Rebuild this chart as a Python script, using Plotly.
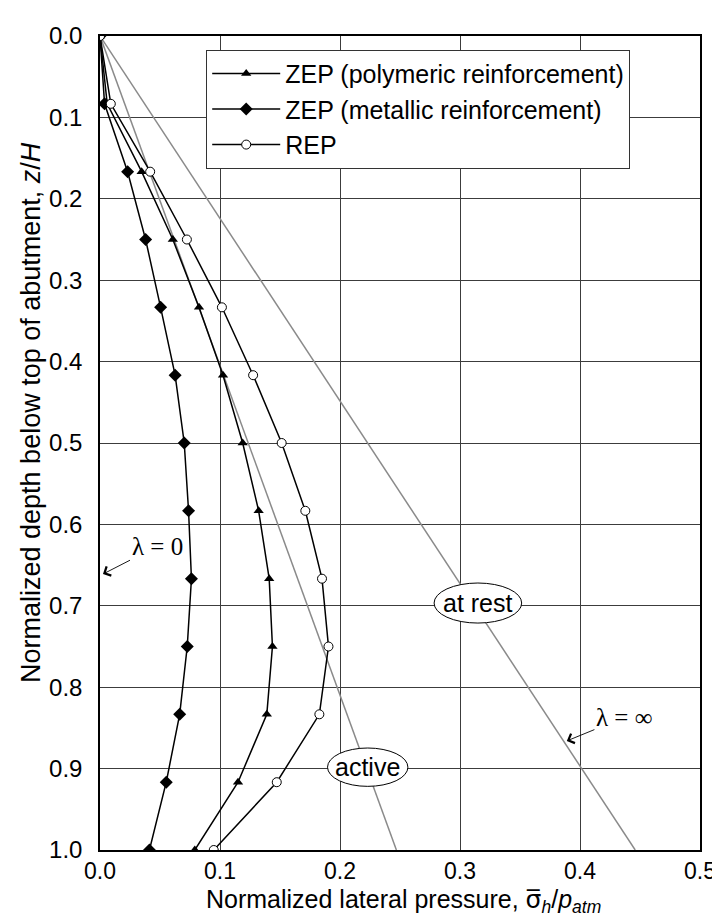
import plotly.graph_objects as go

# depth ratios z/H (0 .. 1 in steps of 1/12)
depth = [0.0, 0.0833, 0.1667, 0.25, 0.3333, 0.4167, 0.5, 0.5833, 0.6667, 0.75, 0.8333, 0.9167, 1.0]

zep_polymeric = [0.0, 0.006, 0.0347, 0.0607, 0.0825, 0.1025, 0.1189, 0.1322, 0.141, 0.1437, 0.139, 0.115, 0.079]
zep_metallic = [0.0, 0.0038, 0.023, 0.038, 0.0505, 0.0626, 0.0702, 0.0738, 0.0762, 0.0727, 0.0664, 0.0552, 0.0412]
rep = [0.0, 0.009, 0.0418, 0.0724, 0.1016, 0.1276, 0.1514, 0.1711, 0.185, 0.1904, 0.1828, 0.1473, 0.0948]

line_depth = [0.0, 1.0]
active_x = [0.0, 0.247]
at_rest_x = [0.0, 0.446]

x_ticks = [0.0, 0.1, 0.2, 0.3, 0.4, 0.5]
y_ticks = [0.0, 0.1, 0.2, 0.3, 0.4, 0.5, 0.6, 0.7, 0.8, 0.9, 1.0]

FONT = "Arial, Liberation Sans, sans-serif"
SERIF = "Times New Roman, Liberation Serif, serif"
GRAY = "#8a8a8a"

fig = go.Figure()

fig.add_trace(go.Scatter(x=active_x, y=line_depth, mode="lines",
                         line=dict(color=GRAY, width=1.5), showlegend=False, hoverinfo="skip"))
fig.add_trace(go.Scatter(x=at_rest_x, y=line_depth, mode="lines",
                         line=dict(color=GRAY, width=1.5), showlegend=False, hoverinfo="skip"))

fig.add_trace(go.Scatter(x=zep_polymeric, y=depth, mode="lines+markers",
                         name="ZEP (polymeric reinforcement)",
                         line=dict(color="black", width=1.5),
                         marker=dict(symbol="triangle-up", size=9, color="black")))
fig.add_trace(go.Scatter(x=zep_metallic, y=depth, mode="lines+markers",
                         name="ZEP (metallic reinforcement)",
                         line=dict(color="black", width=1.5),
                         marker=dict(symbol="diamond", size=10, color="black")))
fig.add_trace(go.Scatter(x=rep, y=depth, mode="lines+markers",
                         name="REP",
                         line=dict(color="black", width=1.5),
                         marker=dict(symbol="circle", size=9, color="white",
                                     line=dict(color="black", width=1))))

# ellipse labels
fig.add_shape(type="circle", xref="x", yref="y", x0=0.2784, x1=0.3514, y0=0.672, y1=0.7212,
              line=dict(color="black", width=1), fillcolor="white", layer="above")
fig.add_shape(type="circle", xref="x", yref="y", x0=0.1896, x1=0.2566, y0=0.8747, y1=0.9218,
              line=dict(color="black", width=1), fillcolor="white", layer="above")
fig.add_annotation(x=0.3149, y=0.6966, text="at rest", showarrow=False,
                   font=dict(family=FONT, size=25, color="black"))
fig.add_annotation(x=0.2231, y=0.8982, text="active", showarrow=False,
                   font=dict(family=FONT, size=25, color="black"))

# lambda labels with arrows
fig.add_annotation(x=0.0025, y=0.661, ax=0.0475, ay=0.627, axref="x", ayref="y",
                   text="λ = 0", showarrow=True, arrowhead=4, arrowsize=2.2, arrowwidth=0.9,
                   arrowcolor="black", font=dict(family=SERIF, size=25, color="black"))
fig.add_annotation(x=0.389, y=0.866, ax=0.437, ay=0.837, axref="x", ayref="y",
                   text="λ = ∞", showarrow=True, arrowhead=4, arrowsize=2.2, arrowwidth=0.9,
                   arrowcolor="black", font=dict(family=SERIF, size=25, color="black"))

# axis titles (annotations, positioned like the reference)
fig.add_annotation(xref="paper", yref="paper", x=-0.1148, y=0.537, xanchor="center", yanchor="middle",
                   text="Normalized depth below top of abutment, <i>z</i>/<i>H</i>", textangle=-90,
                   showarrow=False, font=dict(family=FONT, size=27, color="black"))
fig.add_annotation(xref="paper", yref="paper", x=0.505, y=-0.040, xanchor="center", yanchor="top",
                   text="Normalized lateral pressure, "
                        "<span style=\"font-family:'DejaVu Sans'\">σ̅</span>"
                        "<sub><i>h</i></sub>/<i>p</i><sub><i>atm</i></sub>",
                   showarrow=False, font=dict(family=FONT, size=25, color="black"))

fig.update_xaxes(range=[0, 0.5], tickvals=x_ticks, tickformat=".1f",
                 showgrid=True, gridcolor="#3c3c3c", gridwidth=1,
                 showline=True, linecolor="black", linewidth=1.5, mirror=True,
                 ticks="", zeroline=False, ticklabelstandoff=0,
                 tickfont=dict(family=FONT, size=23, color="black"))
fig.update_yaxes(range=[1.0, 0.0], tickvals=y_ticks, tickformat=".1f",
                 showgrid=True, gridcolor="#3c3c3c", gridwidth=1,
                 showline=True, linecolor="black", linewidth=1.5, mirror=True,
                 ticks="", zeroline=False, ticklabelstandoff=11,
                 tickfont=dict(family=FONT, size=24, color="black"))

fig.update_layout(
    width=720, height=918,
    margin=dict(l=92, r=18, t=28, b=76),
    plot_bgcolor="white", paper_bgcolor="white",
    font=dict(family=FONT, size=25, color="black"),
    legend=dict(x=0.177, y=0.983, xanchor="left", yanchor="top",
                bordercolor="#333333", borderwidth=1, bgcolor="white",
                font=dict(family=FONT, size=25, color="black"),
                tracegroupgap=0, itemwidth=68),
)

fig.write_html("out.html")
